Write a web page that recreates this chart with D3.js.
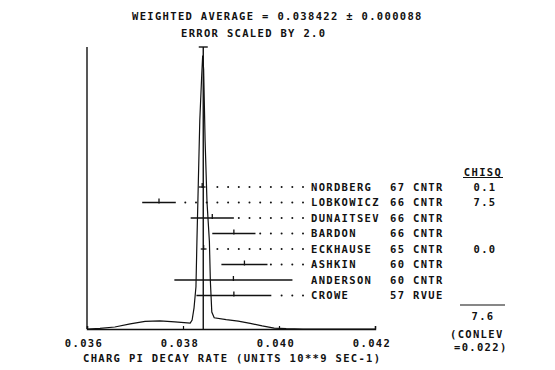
<!DOCTYPE html>
<html><head><meta charset="utf-8">
<script src="https://cdn.jsdelivr.net/npm/d3@7"></script>
<style>
body{margin:0;background:#fff}
text{font-family:"DejaVu Sans Mono",monospace;font-size:10.5px;letter-spacing:1.33px;fill:#111;font-weight:bold}
</style>
</head><body><svg id="c" width="555" height="370"></svg>
<script>
const names = ["NORDBERG","LOBKOWICZ","DUNAITSEV","BARDON","ECKHAUSE","ASHKIN","ANDERSON","CROWE"];
const years = ["67","66","66","66","65","60","60","57"];
const types = ["CNTR","CNTR","CNTR","CNTR","CNTR","CNTR","CNTR","RVUE"];
const values = [0.03840,0.03750,0.03861,0.03906,0.03843,0.03928,0.03905,0.03906];
const errors = [0.00007,0.00035,0.00045,0.00045,0.00006,0.00048,0.00123,0.00078];
const chisq = ["0.1","7.5","","","0.0","","",""];
const xTicks = [0.036,0.038,0.040,0.042];
const xTickLabels = ["0.036","0.038","0.040","0.042"];
const curveX = [0.03600,0.03627,0.03658,0.03690,0.03721,0.03752,0.03783,0.03815,0.03819,0.03823,0.03827,0.03829,0.03832,0.03835,0.03839,0.03841,0.03843,0.03846,0.03850,0.03855,0.03857,0.03860,0.03865,0.03890,0.03915,0.03940,0.03965,0.03990,0.04015,0.04050,0.04200];
const curveY = [0,0.002,0.007,0.018,0.027,0.029,0.025,0.021,0.032,0.075,0.15,0.31,0.525,0.74,0.9,0.97,0.92,0.67,0.45,0.31,0.17,0.06,0.04,0.033,0.028,0.02,0.011,0.003,0.001,0,0];
const weightedAvg = 0.038422, avgErr = 0.000088, errScale = "2.0";
const chisqTotal = "7.6", conlev = "0.022";
const titleText = "WEIGHTED AVERAGE = 0.038422 \u00b1 0.000088";
const subTitle = "ERROR SCALED BY 2.0";
const xTitle = "CHARG PI DECAY RATE (UNITS 10**9 SEC-1)";

const svg = d3.select("#c");
const ink = "#111";
const x = d3.scaleLinear().domain([0.036,0.042]).range([87,375]);
const yH = d3.scaleLinear().domain([0,1]).range([329,47]);
const yRow = d3.scalePoint().domain(d3.range(names.length)).range([187,295.5]);
const cap = 3.8;

// titles
svg.append("text").attr("x",132).attr("y",15.7+cap).text(titleText);
svg.append("text").attr("x",181).attr("y",33.3+cap).text(subTitle);

// axes
svg.append("line").attr("x1",x(0.036)).attr("x2",x(0.036)).attr("y1",47).attr("y2",yH(0)).attr("stroke",ink).attr("stroke-width",1.4);
const ax = svg.append("g").attr("transform",`translate(0,${yH(0)})`)
  .call(d3.axisBottom(x).tickValues(xTicks).tickSize(-3).tickFormat(""));
ax.select(".domain").attr("stroke",ink).attr("stroke-width",1.4);
ax.selectAll(".tick line").attr("stroke",ink).attr("stroke-width",1.2);
svg.selectAll("text.xl").data(xTicks).join("text").attr("class","xl")
  .attr("x",d=>x(d)-3).attr("y",343+cap).attr("text-anchor","middle").text((d,i)=>xTickLabels[i]);
svg.append("text").attr("x",83).attr("y",358+cap).text(xTitle);

// ideogram
const line = d3.line().x(d=>x(d[0])).y(d=>yH(d[1]));
svg.append("path").datum(curveX.map((v,i)=>[v,curveY[i]]))
  .attr("d",line).attr("fill","none").attr("stroke",ink).attr("stroke-width",1.2);

// weighted average line
svg.append("line").attr("x1",x(weightedAvg)).attr("x2",x(weightedAvg)).attr("y1",47).attr("y2",yH(0)).attr("stroke",ink).attr("stroke-width",1.4);
svg.append("line").attr("x1",x(weightedAvg)-4.5).attr("x2",x(weightedAvg)+4.5).attr("y1",47).attr("y2",47).attr("stroke",ink).attr("stroke-width",1.4);

// error bars
const g = svg.append("g");
names.forEach((n,i)=>{
  const y = yRow(i);
  const lo = x(values[i]-errors[i]), hi = x(values[i]+errors[i]);
  g.append("line").attr("x1",lo).attr("x2",hi).attr("y1",y).attr("y2",y).attr("stroke",ink).attr("stroke-width",1.3);
  g.append("line").attr("x1",x(values[i])).attr("x2",x(values[i])).attr("y1",y-4).attr("y2",y+1).attr("stroke",ink).attr("stroke-width",1.3);
  const dots = d3.range(12).map(k=>185.3+k*10.7).filter(px=>px>hi+2);
  if (dots.length>=2) {
    g.selectAll(null).data(dots).join("circle").attr("cx",d=>d).attr("cy",y).attr("r",1).attr("fill",ink);
  }
  g.append("text").attr("x",311).attr("y",y+cap).text(n);
  g.append("text").attr("x",390).attr("y",y+cap).text(years[i]);
  g.append("text").attr("x",413).attr("y",y+cap).text(types[i]);
  if (chisq[i]) g.append("text").attr("x",485).attr("y",y+cap).attr("text-anchor","middle").text(chisq[i]);
});

// chisq column
svg.append("text").attr("x",483).attr("y",172+cap).attr("text-anchor","middle").text("CHISQ");
svg.append("line").attr("x1",463).attr("x2",503).attr("y1",177.5).attr("y2",177.5).attr("stroke",ink).attr("stroke-width",1.2);
svg.append("line").attr("x1",460).attr("x2",505).attr("y1",305).attr("y2",305).attr("stroke",ink).attr("stroke-width",1.2);
svg.append("text").attr("x",483).attr("y",316+cap).attr("text-anchor","middle").text(chisqTotal);
svg.append("text").attr("x",450).attr("y",334+cap).text("(CONLEV");
svg.append("text").attr("x",454).attr("y",347+cap).text("=" + conlev + ")");
</script></body></html>
